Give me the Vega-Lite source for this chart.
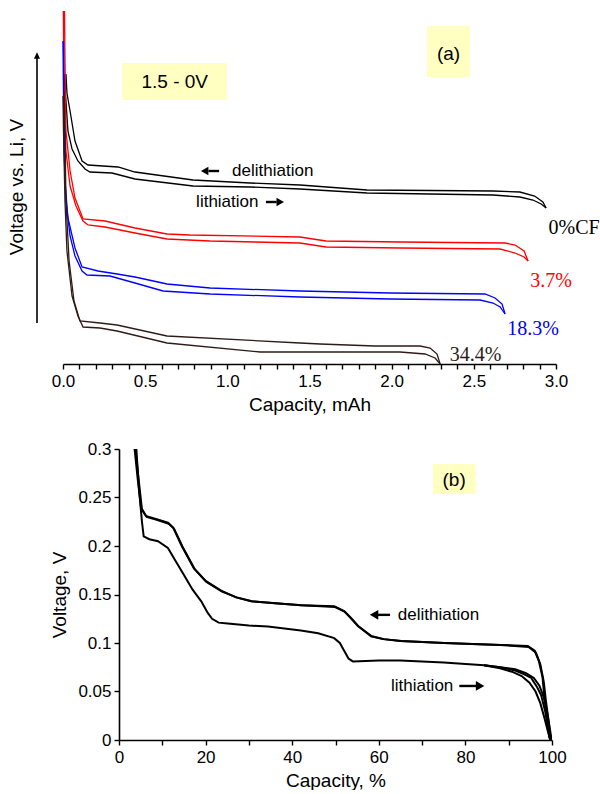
{
  "$schema": "https://vega.github.io/schema/vega-lite/v6.json",
  "padding": {"left": 7, "top": 8, "right": 0, "bottom": 0},
  "background": "white",
  "config": {
    "view": {"stroke": null},
    "font": "Liberation Sans",
    "axis": {
      "grid": false,
      "labelFont": "Liberation Sans",
      "titleFont": "Liberation Sans",
      "labelColor": "#000000",
      "titleColor": "#000000",
      "domainColor": "#000000",
      "tickColor": "#000000",
      "titleFontWeight": "normal",
      "labelFontSize": 17,
      "titleFontSize": 19,
      "tickSize": 5,
      "domainWidth": 1.6,
      "tickWidth": 1.4,
      "labelOverlap": false,
      "labelFlush": false
    }
  },
  "datasets": {
    "charge": [
      {"sample": "0%CF", "dir": "lith", "cap": 0.006, "v": 2.90},
      {"sample": "0%CF", "dir": "lith", "cap": 0.018, "v": 2.63},
      {"sample": "0%CF", "dir": "lith", "cap": 0.030, "v": 2.33},
      {"sample": "0%CF", "dir": "lith", "cap": 0.055, "v": 2.15},
      {"sample": "0%CF", "dir": "lith", "cap": 0.091, "v": 2.03},
      {"sample": "0%CF", "dir": "lith", "cap": 0.134, "v": 1.95},
      {"sample": "0%CF", "dir": "lith", "cap": 0.164, "v": 1.92},
      {"sample": "0%CF", "dir": "lith", "cap": 0.298, "v": 1.91},
      {"sample": "0%CF", "dir": "lith", "cap": 0.438, "v": 1.85},
      {"sample": "0%CF", "dir": "lith", "cap": 0.791, "v": 1.78},
      {"sample": "0%CF", "dir": "lith", "cap": 1.138, "v": 1.77},
      {"sample": "0%CF", "dir": "lith", "cap": 1.442, "v": 1.75},
      {"sample": "0%CF", "dir": "lith", "cap": 1.850, "v": 1.71},
      {"sample": "0%CF", "dir": "lith", "cap": 2.617, "v": 1.69},
      {"sample": "0%CF", "dir": "lith", "cap": 2.780, "v": 1.67},
      {"sample": "0%CF", "dir": "lith", "cap": 2.860, "v": 1.64},
      {"sample": "0%CF", "dir": "lith", "cap": 2.910, "v": 1.60},
      {"sample": "0%CF", "dir": "lith", "cap": 2.940, "v": 1.56},
      {"sample": "0%CF", "dir": "delith", "cap": 0.018, "v": 2.90},
      {"sample": "0%CF", "dir": "delith", "cap": 0.024, "v": 2.71},
      {"sample": "0%CF", "dir": "delith", "cap": 0.043, "v": 2.53},
      {"sample": "0%CF", "dir": "delith", "cap": 0.073, "v": 2.23},
      {"sample": "0%CF", "dir": "delith", "cap": 0.116, "v": 2.03},
      {"sample": "0%CF", "dir": "delith", "cap": 0.152, "v": 1.99},
      {"sample": "0%CF", "dir": "delith", "cap": 0.335, "v": 1.97},
      {"sample": "0%CF", "dir": "delith", "cap": 0.438, "v": 1.92},
      {"sample": "0%CF", "dir": "delith", "cap": 0.791, "v": 1.84},
      {"sample": "0%CF", "dir": "delith", "cap": 1.138, "v": 1.81},
      {"sample": "0%CF", "dir": "delith", "cap": 1.442, "v": 1.79},
      {"sample": "0%CF", "dir": "delith", "cap": 1.850, "v": 1.74},
      {"sample": "0%CF", "dir": "delith", "cap": 2.617, "v": 1.73},
      {"sample": "0%CF", "dir": "delith", "cap": 2.780, "v": 1.72},
      {"sample": "0%CF", "dir": "delith", "cap": 2.870, "v": 1.68},
      {"sample": "0%CF", "dir": "delith", "cap": 2.920, "v": 1.62},
      {"sample": "0%CF", "dir": "delith", "cap": 2.940, "v": 1.56},

      {"sample": "3.7%", "dir": "lith", "cap": 0.002, "v": 3.53},
      {"sample": "3.7%", "dir": "lith", "cap": 0.006, "v": 2.63},
      {"sample": "3.7%", "dir": "lith", "cap": 0.018, "v": 2.13},
      {"sample": "3.7%", "dir": "lith", "cap": 0.043, "v": 1.78},
      {"sample": "3.7%", "dir": "lith", "cap": 0.079, "v": 1.58},
      {"sample": "3.7%", "dir": "lith", "cap": 0.122, "v": 1.43},
      {"sample": "3.7%", "dir": "lith", "cap": 0.152, "v": 1.39},
      {"sample": "3.7%", "dir": "lith", "cap": 0.256, "v": 1.37},
      {"sample": "3.7%", "dir": "lith", "cap": 0.438, "v": 1.31},
      {"sample": "3.7%", "dir": "lith", "cap": 0.633, "v": 1.25},
      {"sample": "3.7%", "dir": "lith", "cap": 0.895, "v": 1.23},
      {"sample": "3.7%", "dir": "lith", "cap": 1.442, "v": 1.21},
      {"sample": "3.7%", "dir": "lith", "cap": 1.600, "v": 1.17},
      {"sample": "3.7%", "dir": "lith", "cap": 2.051, "v": 1.16},
      {"sample": "3.7%", "dir": "lith", "cap": 2.660, "v": 1.15},
      {"sample": "3.7%", "dir": "lith", "cap": 2.751, "v": 1.11},
      {"sample": "3.7%", "dir": "lith", "cap": 2.806, "v": 1.07},
      {"sample": "3.7%", "dir": "lith", "cap": 2.830, "v": 1.03},
      {"sample": "3.7%", "dir": "delith", "cap": 0.009, "v": 3.53},
      {"sample": "3.7%", "dir": "delith", "cap": 0.012, "v": 3.03},
      {"sample": "3.7%", "dir": "delith", "cap": 0.018, "v": 2.33},
      {"sample": "3.7%", "dir": "delith", "cap": 0.043, "v": 1.93},
      {"sample": "3.7%", "dir": "delith", "cap": 0.073, "v": 1.66},
      {"sample": "3.7%", "dir": "delith", "cap": 0.122, "v": 1.45},
      {"sample": "3.7%", "dir": "delith", "cap": 0.256, "v": 1.43},
      {"sample": "3.7%", "dir": "delith", "cap": 0.438, "v": 1.36},
      {"sample": "3.7%", "dir": "delith", "cap": 0.633, "v": 1.30},
      {"sample": "3.7%", "dir": "delith", "cap": 0.773, "v": 1.29},
      {"sample": "3.7%", "dir": "delith", "cap": 1.442, "v": 1.27},
      {"sample": "3.7%", "dir": "delith", "cap": 1.600, "v": 1.23},
      {"sample": "3.7%", "dir": "delith", "cap": 2.051, "v": 1.22},
      {"sample": "3.7%", "dir": "delith", "cap": 2.690, "v": 1.21},
      {"sample": "3.7%", "dir": "delith", "cap": 2.751, "v": 1.19},
      {"sample": "3.7%", "dir": "delith", "cap": 2.806, "v": 1.13},
      {"sample": "3.7%", "dir": "delith", "cap": 2.830, "v": 1.03},

      {"sample": "18.3%", "dir": "lith", "cap": 0.000, "v": 3.23},
      {"sample": "18.3%", "dir": "lith", "cap": 0.006, "v": 2.13},
      {"sample": "18.3%", "dir": "lith", "cap": 0.018, "v": 1.63},
      {"sample": "18.3%", "dir": "lith", "cap": 0.043, "v": 1.28},
      {"sample": "18.3%", "dir": "lith", "cap": 0.073, "v": 1.08},
      {"sample": "18.3%", "dir": "lith", "cap": 0.116, "v": 0.93},
      {"sample": "18.3%", "dir": "lith", "cap": 0.146, "v": 0.89},
      {"sample": "18.3%", "dir": "lith", "cap": 0.286, "v": 0.88},
      {"sample": "18.3%", "dir": "lith", "cap": 0.438, "v": 0.81},
      {"sample": "18.3%", "dir": "lith", "cap": 0.609, "v": 0.73},
      {"sample": "18.3%", "dir": "lith", "cap": 0.895, "v": 0.70},
      {"sample": "18.3%", "dir": "lith", "cap": 1.442, "v": 0.67},
      {"sample": "18.3%", "dir": "lith", "cap": 1.990, "v": 0.65},
      {"sample": "18.3%", "dir": "lith", "cap": 2.538, "v": 0.64},
      {"sample": "18.3%", "dir": "lith", "cap": 2.617, "v": 0.61},
      {"sample": "18.3%", "dir": "lith", "cap": 2.660, "v": 0.57},
      {"sample": "18.3%", "dir": "lith", "cap": 2.690, "v": 0.50},
      {"sample": "18.3%", "dir": "delith", "cap": 0.003, "v": 3.23},
      {"sample": "18.3%", "dir": "delith", "cap": 0.006, "v": 2.63},
      {"sample": "18.3%", "dir": "delith", "cap": 0.012, "v": 1.83},
      {"sample": "18.3%", "dir": "delith", "cap": 0.030, "v": 1.46},
      {"sample": "18.3%", "dir": "delith", "cap": 0.073, "v": 1.16},
      {"sample": "18.3%", "dir": "delith", "cap": 0.116, "v": 0.97},
      {"sample": "18.3%", "dir": "delith", "cap": 0.213, "v": 0.93},
      {"sample": "18.3%", "dir": "delith", "cap": 0.329, "v": 0.90},
      {"sample": "18.3%", "dir": "delith", "cap": 0.438, "v": 0.87},
      {"sample": "18.3%", "dir": "delith", "cap": 0.633, "v": 0.80},
      {"sample": "18.3%", "dir": "delith", "cap": 0.895, "v": 0.76},
      {"sample": "18.3%", "dir": "delith", "cap": 1.442, "v": 0.73},
      {"sample": "18.3%", "dir": "delith", "cap": 1.990, "v": 0.71},
      {"sample": "18.3%", "dir": "delith", "cap": 2.568, "v": 0.70},
      {"sample": "18.3%", "dir": "delith", "cap": 2.629, "v": 0.66},
      {"sample": "18.3%", "dir": "delith", "cap": 2.672, "v": 0.60},
      {"sample": "18.3%", "dir": "delith", "cap": 2.690, "v": 0.50},

      {"sample": "34.4%", "dir": "lith", "cap": 0.000, "v": 2.68},
      {"sample": "34.4%", "dir": "lith", "cap": 0.003, "v": 2.33},
      {"sample": "34.4%", "dir": "lith", "cap": 0.012, "v": 1.63},
      {"sample": "34.4%", "dir": "lith", "cap": 0.024, "v": 1.13},
      {"sample": "34.4%", "dir": "lith", "cap": 0.055, "v": 0.68},
      {"sample": "34.4%", "dir": "lith", "cap": 0.091, "v": 0.48},
      {"sample": "34.4%", "dir": "lith", "cap": 0.122, "v": 0.37},
      {"sample": "34.4%", "dir": "lith", "cap": 0.225, "v": 0.36},
      {"sample": "34.4%", "dir": "lith", "cap": 0.329, "v": 0.33},
      {"sample": "34.4%", "dir": "lith", "cap": 0.633, "v": 0.21},
      {"sample": "34.4%", "dir": "lith", "cap": 1.199, "v": 0.12},
      {"sample": "34.4%", "dir": "lith", "cap": 2.051, "v": 0.12},
      {"sample": "34.4%", "dir": "lith", "cap": 2.203, "v": 0.10},
      {"sample": "34.4%", "dir": "lith", "cap": 2.264, "v": 0.06},
      {"sample": "34.4%", "dir": "lith", "cap": 2.295, "v": 0.00},
      {"sample": "34.4%", "dir": "delith", "cap": 0.006, "v": 2.73},
      {"sample": "34.4%", "dir": "delith", "cap": 0.012, "v": 2.33},
      {"sample": "34.4%", "dir": "delith", "cap": 0.018, "v": 1.63},
      {"sample": "34.4%", "dir": "delith", "cap": 0.037, "v": 1.03},
      {"sample": "34.4%", "dir": "delith", "cap": 0.067, "v": 0.63},
      {"sample": "34.4%", "dir": "delith", "cap": 0.103, "v": 0.43},
      {"sample": "34.4%", "dir": "delith", "cap": 0.225, "v": 0.41},
      {"sample": "34.4%", "dir": "delith", "cap": 0.329, "v": 0.39},
      {"sample": "34.4%", "dir": "delith", "cap": 0.633, "v": 0.28},
      {"sample": "34.4%", "dir": "delith", "cap": 1.442, "v": 0.21},
      {"sample": "34.4%", "dir": "delith", "cap": 1.564, "v": 0.20},
      {"sample": "34.4%", "dir": "delith", "cap": 1.899, "v": 0.18},
      {"sample": "34.4%", "dir": "delith", "cap": 2.173, "v": 0.18},
      {"sample": "34.4%", "dir": "delith", "cap": 2.234, "v": 0.16},
      {"sample": "34.4%", "dir": "delith", "cap": 2.276, "v": 0.10},
      {"sample": "34.4%", "dir": "delith", "cap": 2.295, "v": 0.00}
    ],
    "sampleLabels": [
      {"sample": "0%CF", "cap": 3.11, "v": 1.36},
      {"sample": "3.7%", "cap": 2.97, "v": 0.83},
      {"sample": "18.3%", "cap": 2.86, "v": 0.35},
      {"sample": "34.4%", "cap": 2.51, "v": 0.09}
    ],
    "arrowsA": [
      {"from": 0.885, "to": 0.950, "v": 1.93, "head": 0.862, "shape": "triangle-left"},
      {"from": 1.235, "to": 1.300, "v": 1.62, "head": 1.322, "shape": "triangle-right"}
    ],
    "arrowsB": [
      {"from": 59.4, "to": 62.6, "v": 0.129, "head": 58.9, "shape": "triangle-left"},
      {"from": 78.6, "to": 82.8, "v": 0.0557, "head": 83.4, "shape": "triangle-right"}
    ],
    "norm": [
      {"cycle": "d1", "pct": 3.6, "v": 0.300}, {"cycle": "d1", "pct": 4.3, "v": 0.270},
      {"cycle": "d1", "pct": 5.1, "v": 0.239}, {"cycle": "d1", "pct": 6.2, "v": 0.231},
      {"cycle": "d1", "pct": 8.5, "v": 0.228}, {"cycle": "d1", "pct": 11.3, "v": 0.224},
      {"cycle": "d1", "pct": 12.5, "v": 0.219}, {"cycle": "d1", "pct": 14.5, "v": 0.200},
      {"cycle": "d1", "pct": 17.3, "v": 0.177}, {"cycle": "d1", "pct": 20.0, "v": 0.164},
      {"cycle": "d1", "pct": 23.6, "v": 0.154}, {"cycle": "d1", "pct": 27.0, "v": 0.147},
      {"cycle": "d1", "pct": 30.5, "v": 0.143}, {"cycle": "d1", "pct": 36.0, "v": 0.141},
      {"cycle": "d1", "pct": 42.0, "v": 0.139}, {"cycle": "d1", "pct": 49.7, "v": 0.138},
      {"cycle": "d1", "pct": 52.0, "v": 0.133}, {"cycle": "d1", "pct": 53.5, "v": 0.126},
      {"cycle": "d1", "pct": 55.1, "v": 0.118}, {"cycle": "d1", "pct": 58.2, "v": 0.107},
      {"cycle": "d1", "pct": 61.0, "v": 0.104}, {"cycle": "d1", "pct": 65.0, "v": 0.102},
      {"cycle": "d1", "pct": 75.0, "v": 0.100}, {"cycle": "d1", "pct": 88.0, "v": 0.098},
      {"cycle": "d1", "pct": 94.4, "v": 0.097}, {"cycle": "d1", "pct": 96.0, "v": 0.092},
      {"cycle": "d1", "pct": 97.0, "v": 0.081}, {"cycle": "d1", "pct": 97.8, "v": 0.065},
      {"cycle": "d1", "pct": 98.2, "v": 0.046}, {"cycle": "d1", "pct": 98.8, "v": 0.025},
      {"cycle": "d1", "pct": 99.4, "v": 0.002},
      {"cycle": "d2", "pct": 3.8, "v": 0.300}, {"cycle": "d2", "pct": 4.5, "v": 0.270},
      {"cycle": "d2", "pct": 5.3, "v": 0.238}, {"cycle": "d2", "pct": 6.4, "v": 0.230},
      {"cycle": "d2", "pct": 8.7, "v": 0.227}, {"cycle": "d2", "pct": 11.5, "v": 0.223},
      {"cycle": "d2", "pct": 12.7, "v": 0.218}, {"cycle": "d2", "pct": 14.7, "v": 0.199},
      {"cycle": "d2", "pct": 17.5, "v": 0.176}, {"cycle": "d2", "pct": 20.2, "v": 0.163},
      {"cycle": "d2", "pct": 23.8, "v": 0.153}, {"cycle": "d2", "pct": 27.2, "v": 0.147},
      {"cycle": "d2", "pct": 30.7, "v": 0.143}, {"cycle": "d2", "pct": 36.2, "v": 0.141},
      {"cycle": "d2", "pct": 42.2, "v": 0.139}, {"cycle": "d2", "pct": 49.9, "v": 0.137},
      {"cycle": "d2", "pct": 52.2, "v": 0.132}, {"cycle": "d2", "pct": 53.7, "v": 0.125},
      {"cycle": "d2", "pct": 55.3, "v": 0.117}, {"cycle": "d2", "pct": 58.4, "v": 0.107},
      {"cycle": "d2", "pct": 61.2, "v": 0.104}, {"cycle": "d2", "pct": 65.2, "v": 0.102},
      {"cycle": "d2", "pct": 75.2, "v": 0.100}, {"cycle": "d2", "pct": 88.2, "v": 0.098},
      {"cycle": "d2", "pct": 94.6, "v": 0.096}, {"cycle": "d2", "pct": 96.3, "v": 0.090},
      {"cycle": "d2", "pct": 97.3, "v": 0.078}, {"cycle": "d2", "pct": 98.1, "v": 0.060},
      {"cycle": "d2", "pct": 98.6, "v": 0.040}, {"cycle": "d2", "pct": 99.2, "v": 0.020},
      {"cycle": "d2", "pct": 99.7, "v": 0.000},
      {"cycle": "l1", "pct": 4.0, "v": 0.300}, {"cycle": "l1", "pct": 4.6, "v": 0.260},
      {"cycle": "l1", "pct": 5.3, "v": 0.225}, {"cycle": "l1", "pct": 5.7, "v": 0.210},
      {"cycle": "l1", "pct": 7.0, "v": 0.207}, {"cycle": "l1", "pct": 9.0, "v": 0.205},
      {"cycle": "l1", "pct": 11.3, "v": 0.198}, {"cycle": "l1", "pct": 13.0, "v": 0.185},
      {"cycle": "l1", "pct": 15.0, "v": 0.170}, {"cycle": "l1", "pct": 17.0, "v": 0.155},
      {"cycle": "l1", "pct": 19.0, "v": 0.143}, {"cycle": "l1", "pct": 20.5, "v": 0.131},
      {"cycle": "l1", "pct": 21.5, "v": 0.125}, {"cycle": "l1", "pct": 23.0, "v": 0.121},
      {"cycle": "l1", "pct": 25.1, "v": 0.120}, {"cycle": "l1", "pct": 30.0, "v": 0.118},
      {"cycle": "l1", "pct": 34.4, "v": 0.117}, {"cycle": "l1", "pct": 42.0, "v": 0.113},
      {"cycle": "l1", "pct": 46.0, "v": 0.110}, {"cycle": "l1", "pct": 49.7, "v": 0.105},
      {"cycle": "l1", "pct": 51.0, "v": 0.100}, {"cycle": "l1", "pct": 52.0, "v": 0.092},
      {"cycle": "l1", "pct": 53.0, "v": 0.084}, {"cycle": "l1", "pct": 54.0, "v": 0.081},
      {"cycle": "l1", "pct": 60.0, "v": 0.082}, {"cycle": "l1", "pct": 65.0, "v": 0.082},
      {"cycle": "l1", "pct": 75.0, "v": 0.080}, {"cycle": "l1", "pct": 84.3, "v": 0.077},
      {"cycle": "l1", "pct": 88.0, "v": 0.075}, {"cycle": "l1", "pct": 91.2, "v": 0.072},
      {"cycle": "l1", "pct": 93.5, "v": 0.068}, {"cycle": "l1", "pct": 95.2, "v": 0.064},
      {"cycle": "l1", "pct": 96.5, "v": 0.055}, {"cycle": "l1", "pct": 97.5, "v": 0.046},
      {"cycle": "l1", "pct": 98.4, "v": 0.030}, {"cycle": "l1", "pct": 99.0, "v": 0.015},
      {"cycle": "l1", "pct": 99.8, "v": 0.000},
      {"cycle": "l2", "pct": 84.3, "v": 0.077}, {"cycle": "l2", "pct": 88.0, "v": 0.075},
      {"cycle": "l2", "pct": 91.5, "v": 0.073}, {"cycle": "l2", "pct": 94.0, "v": 0.069},
      {"cycle": "l2", "pct": 95.8, "v": 0.064}, {"cycle": "l2", "pct": 97.1, "v": 0.056},
      {"cycle": "l2", "pct": 98.1, "v": 0.044}, {"cycle": "l2", "pct": 98.9, "v": 0.028},
      {"cycle": "l2", "pct": 99.5, "v": 0.012}, {"cycle": "l2", "pct": 99.9, "v": 0.000},
      {"cycle": "l3", "pct": 84.3, "v": 0.077}, {"cycle": "l3", "pct": 88.0, "v": 0.074},
      {"cycle": "l3", "pct": 91.0, "v": 0.070}, {"cycle": "l3", "pct": 93.0, "v": 0.066},
      {"cycle": "l3", "pct": 94.8, "v": 0.059}, {"cycle": "l3", "pct": 96.2, "v": 0.050},
      {"cycle": "l3", "pct": 97.3, "v": 0.038}, {"cycle": "l3", "pct": 98.3, "v": 0.022},
      {"cycle": "l3", "pct": 99.1, "v": 0.008}, {"cycle": "l3", "pct": 99.6, "v": 0.000}
    ]
  },
  "spacing": 26,
  "vconcat": [
    {
      "spacing": 9,
      "hconcat": [
        {
          "width": 10,
          "height": 355,
          "data": {"values": [{"pos": 0, "lo": 0.41, "hi": 3.08}]},
          "layer": [
            {
              "mark": {"type": "rule", "color": "#000000", "strokeWidth": 1.6},
              "encoding": {
                "x": {"field": "pos", "type": "quantitative", "scale": {"domain": [-1, 1]}, "axis": null},
                "y": {
                  "field": "lo", "type": "quantitative",
                  "scale": {"domain": [0, 3.55], "nice": false},
                  "axis": {"title": "Voltage vs. Li, V", "labels": false, "ticks": false, "domain": false, "titlePadding": 6}
                },
                "y2": {"field": "hi"}
              }
            },
            {
              "mark": {"type": "point", "shape": "M0,-1L0.8,0.7L-0.8,0.7Z", "filled": true, "color": "#000000", "opacity": 1, "size": 58},
              "encoding": {
                "x": {"field": "pos", "type": "quantitative"},
                "y": {"field": "hi", "type": "quantitative"}
              }
            }
          ]
        },
        {
          "width": 493,
          "height": 355,
          "encoding": {
            "x": {
              "field": "cap", "type": "quantitative",
              "scale": {"domain": [0, 3], "nice": false},
              "axis": {
                "title": "Capacity, mAh",
                "values": [0, 0.1, 0.2, 0.3, 0.4, 0.5, 0.6, 0.7, 0.8, 0.9, 1, 1.1, 1.2, 1.3, 1.4, 1.5, 1.6, 1.7, 1.8, 1.9, 2, 2.1, 2.2, 2.3, 2.4, 2.5, 2.6, 2.7, 2.8, 2.9, 3],
                "labelExpr": "round(datum.value * 10) % 5 === 0 ? format(datum.value, '.1f') : ''",
                "labelPadding": 4,
                "titlePadding": 6
              }
            },
            "y": {"field": "v", "type": "quantitative", "scale": {"domain": [0, 3.55], "nice": false}, "axis": null}
          },
          "layer": [
            {
              "data": {"values": [
                {"cap": 0.359, "cap2": 0.998, "v": 3.01, "v2": 2.64},
                {"cap": 2.215, "cap2": 2.477, "v": 3.38, "v2": 2.87}
              ]},
              "mark": {"type": "rect", "color": "#ffffc2"},
              "encoding": {"x2": {"field": "cap2"}, "y2": {"field": "v2"}}
            },
            {
              "data": {"values": [
                {"text": "1.5 - 0V", "cap": 0.68, "v": 2.82},
                {"text": "(a)", "cap": 2.346, "v": 3.10}
              ]},
              "mark": {"type": "text", "fontSize": 19, "color": "#000000", "align": "center", "baseline": "middle"},
              "encoding": {"text": {"field": "text"}}
            },
            {
              "data": {"name": "charge"},
              "mark": {"type": "line", "strokeWidth": 1.3, "interpolate": "linear"},
              "encoding": {
                "color": {
                  "field": "sample", "type": "nominal", "legend": null,
                  "scale": {"domain": ["0%CF", "3.7%", "18.3%", "34.4%"], "range": ["#000000", "#ff0000", "#0000ff", "#2e1b17"]}
                },
                "detail": {"field": "dir"}
              }
            },
            {
              "data": {"name": "sampleLabels"},
              "mark": {"type": "text", "font": "Liberation Serif", "fontSize": 20, "align": "center", "baseline": "middle"},
              "encoding": {
                "text": {"field": "sample"},
                "color": {"field": "sample", "type": "nominal", "legend": null}
              }
            },
            {
              "data": {"values": [
                {"text": "delithiation", "cap": 1.029, "v": 1.93},
                {"text": "lithiation", "cap": 0.81, "v": 1.62}
              ]},
              "mark": {"type": "text", "fontSize": 17, "color": "#000000", "align": "left", "baseline": "middle"},
              "encoding": {"text": {"field": "text"}}
            },
            {
              "data": {"name": "arrowsA"},
              "mark": {"type": "rule", "color": "#000000", "strokeWidth": 2.4},
              "encoding": {"x": {"field": "from", "type": "quantitative"}, "x2": {"field": "to"}}
            },
            {
              "data": {"name": "arrowsA"},
              "mark": {"type": "point", "filled": true, "color": "#000000", "opacity": 1, "size": 75},
              "encoding": {
                "x": {"field": "head", "type": "quantitative"},
                "shape": {"field": "shape", "type": "nominal", "scale": null}
              }
            }
          ]
        }
      ]
    },
    {
      "spacing": 0,
      "hconcat": [
        {
          "width": 18,
          "height": 10,
          "data": {"values": []},
          "mark": "point",
          "encoding": {}
        },
        {
          "width": 433,
          "height": 291,
          "encoding": {
            "x": {
              "field": "pct", "type": "quantitative",
              "scale": {"domain": [0, 100], "nice": false},
              "axis": {
                "title": "Capacity, %",
                "values": [0, 10, 20, 30, 40, 50, 60, 70, 80, 90, 100],
                "labelExpr": "datum.value % 20 === 0 ? format(datum.value, 'd') : ''",
                "labelPadding": 4,
                "titlePadding": 6
              }
            },
            "y": {
              "field": "v", "type": "quantitative",
              "scale": {"domain": [0, 0.3], "nice": false},
              "axis": {
                "title": "Voltage, V",
                "values": [0, 0.05, 0.1, 0.15, 0.2, 0.25, 0.3],
                "format": "~g",
                "labelPadding": 3,
                "titlePadding": 8
              }
            }
          },
          "layer": [
            {
              "data": {"values": [{"pct": 72.5, "pct2": 82.4, "v": 0.2845, "v2": 0.2536}]},
              "mark": {"type": "rect", "color": "#ffffc2"},
              "encoding": {"x2": {"field": "pct2"}, "y2": {"field": "v2"}}
            },
            {
              "data": {"values": [{"text": "(b)", "pct": 77.4, "v": 0.268}]},
              "mark": {"type": "text", "fontSize": 19, "color": "#000000", "align": "center", "baseline": "middle"},
              "encoding": {"text": {"field": "text"}}
            },
            {
              "data": {"name": "norm"},
              "mark": {"type": "line", "strokeWidth": 2, "color": "#000000", "clip": true},
              "encoding": {"detail": {"field": "cycle"}}
            },
            {
              "data": {"values": [
                {"text": "delithiation", "pct": 64.4, "v": 0.129},
                {"text": "lithiation", "pct": 62.8, "v": 0.0557}
              ]},
              "mark": {"type": "text", "fontSize": 17, "color": "#000000", "align": "left", "baseline": "middle"},
              "encoding": {"text": {"field": "text"}}
            },
            {
              "data": {"name": "arrowsB"},
              "mark": {"type": "rule", "color": "#000000", "strokeWidth": 2.4},
              "encoding": {"x": {"field": "from", "type": "quantitative"}, "x2": {"field": "to"}}
            },
            {
              "data": {"name": "arrowsB"},
              "mark": {"type": "point", "filled": true, "color": "#000000", "opacity": 1, "size": 95},
              "encoding": {
                "x": {"field": "head", "type": "quantitative"},
                "shape": {"field": "shape", "type": "nominal", "scale": null}
              }
            }
          ]
        }
      ]
    }
  ]
}
